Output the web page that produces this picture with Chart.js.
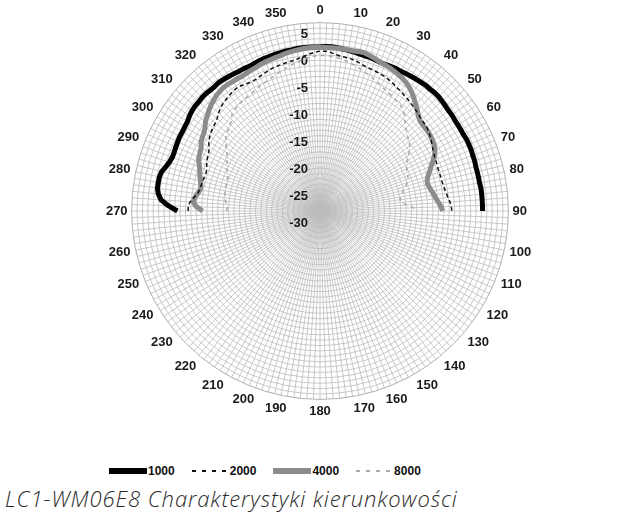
<!DOCTYPE html>
<html lang="pl">
<head>
<meta charset="utf-8">
<title>LC1-WM06E8 Charakterystyki kierunkowości</title>
<script src="https://cdn.jsdelivr.net/npm/chart.js@4.4.1/dist/chart.umd.min.js"></script>
<style>
  html, body { margin: 0; padding: 0; background: #fff; }
  #caja { position: absolute; left: 0; top: 0; width: 625px; height: 425px; }
  #leyenda { position: absolute; left: 109px; top: 464px; display: flex; align-items: center; gap: 17px;
    font: bold 12px "Liberation Sans", Arial, sans-serif; color: #111; }
  #leyenda .item { display: flex; align-items: center; }
  #leyenda .muestra { display: inline-block; margin-right: 1px; }
  #titulo { position: absolute; left: 5px; top: 483px; font: italic 300 22px "Open Sans", sans-serif;
    letter-spacing: 0.9px; color: #2a2a2a; white-space: nowrap; }
</style>
</head>
<body>
<div id="caja"><canvas id="polar"></canvas></div>
<div id="leyenda"></div>
<div id="titulo">LC1-WM06E8 Charakterystyki kierunkowości</div>
<script>
// Frecuencias (leyenda)
const frecuencias = ['1000', '2000', '4000', '8000'];

// Marcas del eje radial (dB)
const etiquetasRadio = [5, 0, -5, -10, -15, -20, -25, -30];

// Valores en dB cada 2 grados, desde 270 pasando por 0 hasta 90 (91 valores)
const serie1000 = [
  -3.5, -1.8, -0.4, 0.2, 0.5, 0.5, 0.5, 0.3, -0.2, -0.6,
  -0.8, -0.8, -0.7, -0.6, -0.5, -0.5, -0.4, -0.3, 0.0, 0.2,
  0.3, 0.3, 0.4, 0.4, 0.3, 0.3, 0.4, 0.3, 0.2, 0.1,
  0.0, 0.0, -0.1, 0.0, 0.1, 0.2, 0.2, 0.3, 0.3, 0.4,
  0.4, 0.5, 0.5, 0.5, 0.5, 0.5, 0.6, 0.6, 0.5, 0.4,
  0.3, 0.2, 0.1, 0.0, 0.0, -0.1, -0.2, -0.2, -0.1, 0.0,
  0.0, 0.1, 0.2, 0.3, 0.4, 0.5, 0.5, 0.6, 0.6, 0.5,
  0.4, 0.3, 0.3, 0.2, 0.2, 0.2, 0.2, 0.3, 0.3, 0.3,
  0.2, 0.2, 0.1, 0.1, 0.1, 0.1, 0.2, 0.2, 0.2, 0.2,
  0.2
];
const serie2000 = [
  -5.5, -5.5, -5.8, -6.4, -7.0, -7.3, -7.4, -7.5, -7.6, -7.7,
  -7.6, -7.3, -7.0, -6.8, -6.6, -6.2, -5.6, -5.3, -5.0, -4.8,
  -4.6, -4.3, -3.8, -3.4, -3.1, -2.9, -2.7, -2.5, -2.4, -2.5,
  -2.7, -2.8, -2.8, -2.6, -2.4, -2.2, -2.0, -1.9, -1.8, -1.7,
  -1.6, -1.4, -1.1, -0.8, -0.5, -0.3, -0.3, -0.5, -0.8, -1.0,
  -1.1, -1.2, -1.4, -1.7, -1.9, -2.0, -2.1, -2.2, -2.3, -2.5,
  -2.7, -3.0, -3.2, -3.4, -3.6, -3.8, -4.0, -4.2, -4.4, -4.6,
  -4.7, -4.8, -5.0, -5.3, -5.6, -5.9, -6.2, -6.4, -6.5, -6.6,
  -6.7, -6.7, -6.7, -6.7, -6.6, -6.5, -6.3, -6.1, -5.8, -5.6,
  -5.5
];
const serie4000 = [
  -8.2, -7.0, -6.4, -6.6, -7.0, -7.4, -7.4, -7.1, -6.8, -6.5,
  -6.2, -5.7, -5.4, -5.2, -5.0, -4.5, -4.2, -4.0, -3.6, -3.0,
  -2.6, -2.2, -1.8, -1.5, -1.2, -1.0, -0.9, -0.9, -1.0, -1.0,
  -1.1, -1.0, -0.9, -0.8, -0.6, -0.5, -0.4, -0.3, -0.2, 0.0,
  0.1, 0.2, 0.3, 0.4, 0.4, 0.4, 0.4, 0.4, 0.4, 0.4,
  0.4, 0.4, 0.5, 0.5, 0.3, 0.1, -0.2, -0.3, -0.4, -0.6,
  -0.8, -1.0, -1.3, -1.7, -2.2, -2.8, -3.4, -4.0, -4.6, -5.0,
  -5.1, -5.1, -5.1, -5.2, -5.3, -5.5, -5.8, -6.3, -7.0, -7.7,
  -8.3, -8.9, -9.3, -9.4, -9.2, -8.9, -8.6, -8.3, -7.9, -7.5,
  -7.2
];
const serie8000 = [
  -12.6, -12.8, -12.6, -12.3, -12.2, -12.1, -12.0, -11.9, -11.9, -11.8,
  -11.8, -11.5, -11.1, -10.7, -10.4, -10.1, -9.6, -9.0, -8.4, -7.8,
  -7.4, -7.2, -6.8, -6.4, -5.6, -5.4, -5.2, -5.0, -4.9, -4.8,
  -4.7, -4.5, -4.3, -4.1, -3.9, -3.7, -3.4, -3.1, -2.8, -2.5,
  -2.2, -1.9, -1.6, -1.4, -1.2, -1.1, -1.1, -1.2, -1.3, -1.5,
  -1.7, -2.0, -2.3, -2.6, -2.9, -3.2, -3.5, -3.8, -4.1, -4.4,
  -4.6, -4.8, -5.0, -5.2, -5.4, -5.8, -6.5, -7.2, -7.8, -8.3,
  -8.7, -9.0, -9.4, -10.0, -10.7, -11.3, -11.8, -12.1, -12.3, -12.4,
  -12.6, -13.0, -13.5, -14.0, -14.4, -14.7, -15.0, -14.8, -13.8, -12.6,
  -12.3
];

// Eje angular cada 2 grados (rejilla fina), etiqueta cada 10
const angulos = [];
for (let g = 0; g < 360; g += 2) angulos.push(g);

// Coloca la serie (270..90) sobre los 180 ángulos, el resto vacío
function repartir(serie) {
  return angulos.map(a => {
    let k = -1;
    if (a >= 270) k = (a - 270) / 2;
    else if (a <= 90) k = (a + 90) / 2;
    return k >= 0 ? serie[k] : null;
  });
}

const estilos = [
  { color: '#000000', ancho: 5, guion: [], orden: 3 },
  { color: '#111111', ancho: 1.5, guion: [4, 3], orden: 1 },
  { color: '#8c8c8c', ancho: 5, guion: [], orden: 2 },
  { color: '#a9a9a9', ancho: 1.5, guion: [4, 4], orden: 0 }
];
const series = [serie1000, serie2000, serie4000, serie8000];

// Etiquetas dB bajo cada anillo, a la izquierda del eje vertical
const etiquetasDb = {
  id: 'etiquetasDb',
  beforeDatasetsDraw(chart) {
    const r = chart.scales.r;
    const ctx = chart.ctx;
    ctx.save();
    ctx.font = 'bold 13px "Liberation Sans", Arial, sans-serif';
    ctx.fillStyle = '#1a1a1a';
    ctx.textAlign = 'right';
    ctx.textBaseline = 'middle';
    etiquetasRadio.forEach(v => {
      const d = r.getDistanceFromCenterForValue(v);
      ctx.fillText(String(v), r.xCenter - 12, r.yCenter - d + 12);
    });
    ctx.restore();
  }
};

new Chart(document.getElementById('polar'), {
  type: 'radar',
  data: {
    labels: angulos,
    datasets: frecuencias.map((f, i) => ({
      label: f,
      data: repartir(series[i]),
      borderColor: estilos[i].color,
      borderWidth: estilos[i].ancho,
      borderDash: estilos[i].guion,
      order: estilos[i].orden,
      fill: false,
      tension: 0,
      pointRadius: 0,
      borderJoinStyle: 'round',
      borderCapStyle: 'butt'
    }))
  },
  options: {
    responsive: true,
    maintainAspectRatio: false,
    animation: false,
    layout: { padding: { top: 3, left: 15, right: 0, bottom: 5 } },
    scales: {
      r: {
        min: -30,
        max: 5,
        ticks: { display: false, stepSize: 1 },
        grid: {
          circular: true,
          color: ctx => ctx.tick && ctx.tick.value === 5 ? '#9a9a9a' : '#bdbdbd',
          lineWidth: 0.8
        },
        angleLines: { color: '#bdbdbd', lineWidth: 0.8 },
        pointLabels: {
          padding: 4,
          color: '#1a1a1a',
          font: { family: '"Liberation Sans", Arial, sans-serif', size: 13, weight: 'bold' },
          callback: (etq) => (etq % 10 === 0 ? String(etq) : '')
        }
      }
    },
    plugins: { legend: { display: false }, tooltip: { enabled: false } }
  },
  plugins: [etiquetasDb]
});

// Leyenda HTML bajo el gráfico
const $ley = document.getElementById('leyenda');
frecuencias.forEach((f, i) => {
  const e = estilos[i];
  const item = document.createElement('span');
  item.className = 'item';
  const m = document.createElement('span');
  m.className = 'muestra';
  if (e.guion.length) {
    m.style.width = '35px';
    m.style.height = '2px';
    m.style.marginRight = '3px';
    m.style.background = `repeating-linear-gradient(90deg, ${e.color} 0 4px, transparent 4px 10px)`;
  } else {
    m.style.width = '38px';
    m.style.height = '6px';
    m.style.background = e.color;
  }
  item.appendChild(m);
  item.appendChild(document.createTextNode(f));
  $ley.appendChild(item);
});
</script>
</body>
</html>
